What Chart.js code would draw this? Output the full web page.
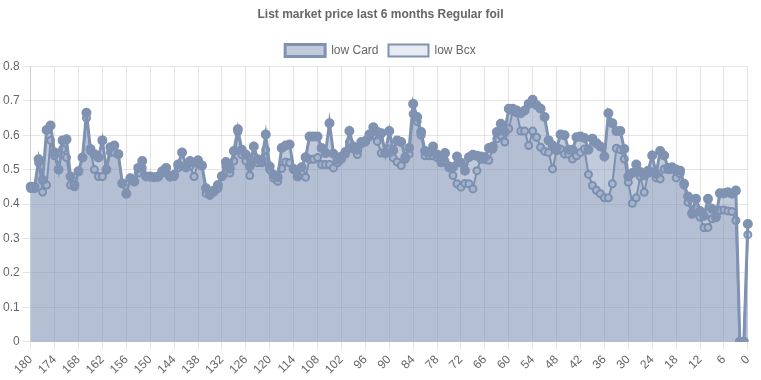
<!DOCTYPE html>
<html>
<head>
<meta charset="utf-8">
<script src="https://cdn.jsdelivr.net/npm/chart.js@4.4.0/dist/chart.umd.min.js"></script>
<style>
html,body{margin:0;padding:0;background:#fff;}
#wrap{width:761px;height:380px;position:relative;}
</style>
</head>
<body>
<div id="wrap"><canvas id="c"></canvas></div>
<script>
const titleText = "List market price last 6 months Regular foil";
const seriesNames = ["low Card", "low Bcx"];
const days = [];
for (let d = 180; d >= 0; d--) days.push(String(d));

const lowCard = [
0.45,0.45,0.53,0.47,0.615,0.628,0.55,0.50,0.585,0.588,
0.48,0.455,0.495,0.535,0.665,0.56,0.545,0.535,0.585,0.50,
0.565,0.57,0.545,0.46,0.43,0.475,0.465,0.505,0.525,0.48,
0.48,0.478,0.48,0.495,0.505,0.48,0.485,0.515,0.55,0.51,
0.525,0.52,0.527,0.512,0.446,0.428,0.439,0.455,0.481,0.522,
0.503,0.554,0.617,0.558,0.544,0.51,0.567,0.53,0.527,0.602,
0.509,0.485,0.478,0.563,0.57,0.573,0.502,0.48,0.507,0.536,
0.596,0.596,0.596,0.563,0.548,0.635,0.546,0.529,0.538,0.551,
0.612,0.567,0.558,0.58,0.583,0.602,0.623,0.61,0.606,0.548,
0.612,0.556,0.585,0.58,0.536,0.563,0.691,0.653,0.609,0.554,
0.55,0.567,0.544,0.527,0.548,0.509,0.507,0.538,0.52,0.497,
0.536,0.543,0.54,0.538,0.536,0.563,0.567,0.609,0.633,0.61,
0.677,0.677,0.672,0.664,0.672,0.691,0.703,0.687,0.677,0.653,
0.585,0.57,0.562,0.602,0.60,0.558,0.558,0.594,0.596,0.592,
0.558,0.59,0.577,0.567,0.538,0.664,0.635,0.612,0.612,0.56,
0.48,0.49,0.515,0.493,0.483,0.497,0.541,0.488,0.554,0.541,
0.505,0.507,0.50,0.497,0.459,0.422,0.373,0.415,0.38,0.365,
0.415,0.386,0.364,0.431,0.431,0.434,0.43,0.439,0,0,
0.342
];
const lowBcx = [
0.445,0.445,0.52,0.435,0.455,0.585,0.54,0.50,0.56,0.535,
0.455,0.45,0.495,0.535,0.65,0.555,0.50,0.48,0.48,0.50,
0.55,0.55,0.545,0.46,0.43,0.475,0.465,0.49,0.505,0.48,
0.478,0.478,0.478,0.49,0.49,0.478,0.48,0.505,0.51,0.505,
0.51,0.48,0.52,0.51,0.431,0.425,0.435,0.445,0.48,0.51,
0.49,0.525,0.61,0.543,0.525,0.483,0.535,0.52,0.52,0.558,
0.50,0.475,0.466,0.503,0.522,0.52,0.50,0.48,0.488,0.478,
0.53,0.53,0.535,0.515,0.515,0.515,0.505,0.52,0.53,0.545,
0.58,0.56,0.544,0.575,0.58,0.595,0.60,0.582,0.548,0.548,
0.56,0.534,0.522,0.512,0.53,0.545,0.662,0.64,0.60,0.54,
0.54,0.54,0.535,0.52,0.525,0.505,0.483,0.459,0.449,0.46,
0.459,0.444,0.497,0.53,0.53,0.527,0.56,0.59,0.60,0.58,
0.619,0.67,0.665,0.612,0.612,0.57,0.612,0.594,0.565,0.553,
0.55,0.502,0.555,0.56,0.545,0.545,0.531,0.54,0.55,0.56,
0.486,0.454,0.44,0.43,0.418,0.418,0.459,0.562,0.558,0.531,
0.463,0.402,0.418,0.48,0.434,0.49,0.493,0.476,0.473,0.502,
0.50,0.50,0.476,0.488,0.455,0.405,0.37,0.39,0.362,0.331,
0.332,0.357,0.36,0.381,0.383,0.38,0.378,0.352,0,0,
0.311
];
const yTicksMin = 0, yTicksMax = 0.8, yStep = 0.1;
const xTickEvery = 6;

const lineColor = 'rgb(127,146,178)';
const FONT = "'Liberation Sans', Arial, Helvetica, sans-serif";
Chart.defaults.font.family = FONT;
Chart.defaults.font.size = 12;
Chart.defaults.color = '#666';

new Chart(document.getElementById('c'), {
  type: 'line',
  data: {
    labels: days,
    datasets: [
      {
        label: seriesNames[0],
        data: lowCard,
        borderColor: lineColor,
        backgroundColor: 'rgba(120,140,175,0.45)',
        pointBackgroundColor: lineColor,
        pointBorderColor: lineColor,
        borderWidth: 3,
        pointRadius: 4,
        pointBorderWidth: 2,
        fill: 'origin',
        tension: 0
      },
      {
        label: seriesNames[1],
        data: lowBcx,
        borderColor: lineColor,
        backgroundColor: 'rgba(120,140,175,0.18)',
        pointBackgroundColor: 'rgba(205,213,227,1)',
        pointBorderColor: lineColor,
        borderWidth: 2,
        pointRadius: 3.5,
        pointBorderWidth: 2,
        fill: 'origin',
        tension: 0
      }
    ]
  },
  options: {
    responsive: true,
    maintainAspectRatio: false,
    animation: false,
    plugins: {
      title: { display: true, text: titleText, color: '#666', font: { size: 12, weight: 'bold' }, padding: { top: 7, bottom: 13 } },
      legend: { labels: { boxWidth: 40, boxHeight: 12, color: '#666' } },
      tooltip: { enabled: false }
    },
    scales: {
      x: {
        grid: { color: 'rgba(0,0,0,0.1)' },
        ticks: {
          autoSkip: false,
          minRotation: 45, maxRotation: 45,
          callback: function(v, i) { return (i % xTickEvery === 0) ? days[i] : null; }
        }
      },
      y: {
        min: yTicksMin, max: yTicksMax,
        grid: { color: 'rgba(0,0,0,0.1)' },
        ticks: { stepSize: yStep }
      }
    }
  }
});
</script>
</body>
</html>
